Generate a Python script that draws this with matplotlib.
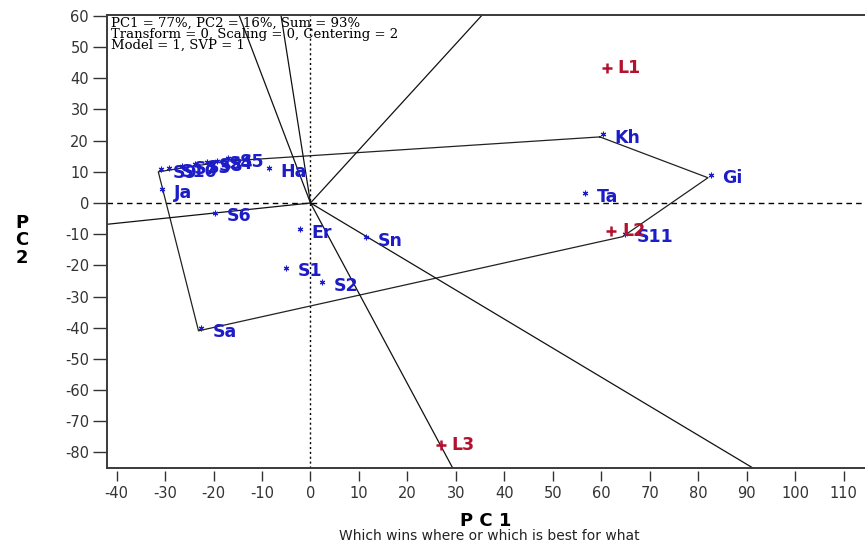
import numpy as np
import matplotlib
matplotlib.use('Agg')
import matplotlib.pyplot as plt
from matplotlib import transforms as mtransforms

# GGE biplot scores
genotypes = ['Kh', 'Gi', 'Ta', 'S11', 'Sn', 'Er', 'S1', 'S2', 'Sa', 'S6', 'Ja', 'Ha',
             'S9', 'S10', 'S7', 'S3', 'S8', 'S4', 'S5']
gen_pc1 = [59.7, 82.0, 56.0, 64.4, 10.8, -2.8, -5.6, 1.8, -23.1, -20.3, -31.2, -9.2,
           -31.4, -29.8, -27.0, -24.5, -22.0, -19.8, -17.5]
gen_pc2 = [21.2, 8.1, 2.2, -10.8, -11.9, -9.3, -21.6, -26.3, -41.0, -4.0, 3.5, 10.3,
           10.0, 10.3, 11.0, 11.6, 12.2, 12.7, 13.4]

testers = ['L1', 'L2', 'L3']
tst_pc1 = [61.1, 62.1, 27.0]
tst_pc2 = [43.3, -8.9, -77.6]

# vertices of the polygon (outermost genotypes)
hull = ['Kh', 'Gi', 'S11', 'Sa', 'S9', 'S5']

info = ['PC1 = 77%, PC2 = 16%, Sum = 93%',
        'Transform = 0, Scaling = 0, Centering = 2',
        'Model = 1, SVP = 1']

xticks = list(range(-40, 111, 10))
yticks = list(range(-80, 61, 10))

blue = '#1c1cc8'
red = '#b3122e'
dark = '#333333'

plt.rcParams['font.family'] = 'DejaVu Sans'
plt.rcParams['axes.unicode_minus'] = False

fig = plt.figure(figsize=(8.65, 5.44), dpi=100)
ax = fig.add_axes([107/865, 76/544, 758/865, 453/544])
ax.set_xlim(-41.98, 114.4)
ax.set_ylim(-85.0, 60.3)

# reference lines through origin
ax.axhline(0, color='black', lw=1, ls=(0, (4, 3)), zorder=1)
ax.axvline(0, color='black', lw=1, ls=(0, (1.5, 2)), zorder=1)

pos = {g: (x, y) for g, x, y in zip(genotypes, gen_pc1, gen_pc2)}

# polygon
hx = [pos[g][0] for g in hull] + [pos[hull[0]][0]]
hy = [pos[g][1] for g in hull] + [pos[hull[0]][1]]
ax.plot(hx, hy, color='#222222', lw=0.9, zorder=2)

# rays from origin perpendicular to each side
for i in range(len(hull)):
    a = np.array(pos[hull[i]])
    b = np.array(pos[hull[(i + 1) % len(hull)]])
    d = b - a
    t = -np.dot(a, d) / np.dot(d, d)
    foot = a + t * d
    u = foot / np.linalg.norm(foot)
    ax.plot([0, u[0] * 400], [0, u[1] * 400], color='#111111', lw=0.9, zorder=2)

# genotype points and labels
star_tr = mtransforms.offset_copy(ax.transData, fig=fig, x=2, y=2, units='points')
ax.plot(gen_pc1, gen_pc2, ls='none', marker=(6, 2, 0), ms=4, mew=0.8,
        color=blue, transform=star_tr, zorder=3)
for g, x, y in zip(genotypes, gen_pc1, gen_pc2):
    ax.annotate(g, (x, y), xytext=(10.5, -0.5), textcoords='offset points',
                ha='left', va='center', fontsize=12.5, fontweight='bold',
                color=blue, zorder=4)

# testers
ax.plot(tst_pc1, tst_pc2, ls='none', marker='+', ms=7, mew=1.8, color=red, zorder=3)
for t, x, y in zip(testers, tst_pc1, tst_pc2):
    ax.annotate(t, (x, y), xytext=(7.5, 0), textcoords='offset points',
                ha='left', va='center', fontsize=12.5, fontweight='bold',
                color=red, zorder=4)

# info text
for i, line in enumerate(info):
    ax.text(0.005, 0.997 - i * 0.025, line, transform=ax.transAxes, ha='left', va='top',
            fontsize=9.5, family='DejaVu Serif', color='black')

# frame and axes
for s in ['left', 'top']:
    ax.spines[s].set_color('#3a3a3a')
    ax.spines[s].set_linewidth(1.4)
ax.spines['right'].set_visible(False)
ax.spines['bottom'].set_position(('outward', 2))
ax.spines['bottom'].set_visible(False)
ax.plot([0, 1], [0, 0], transform=ax.transAxes, color='#3a3a3a', lw=1.4, clip_on=False)

ax.set_xticks(xticks)
ax.set_yticks(yticks)
ax.tick_params(axis='x', direction='out', length=7, width=1, pad=4,
               labelsize=10.5, colors=dark)
ax.tick_params(axis='y', direction='out', length=10, width=1, pad=3,
               labelsize=10.5, colors=dark)

ax.set_xlabel('P C 1', fontsize=13, fontweight='bold', labelpad=8, color='black')
fig.text(0.025, 0.558, 'P\nC\n2', ha='center', va='center', fontsize=13,
         fontweight='bold', linespacing=0.95)
fig.text(0.566, 0.014, 'Which wins where or which is best for what', ha='center',
         va='center', fontsize=10, color='#222222')

fig.savefig('out.png', dpi=100)
